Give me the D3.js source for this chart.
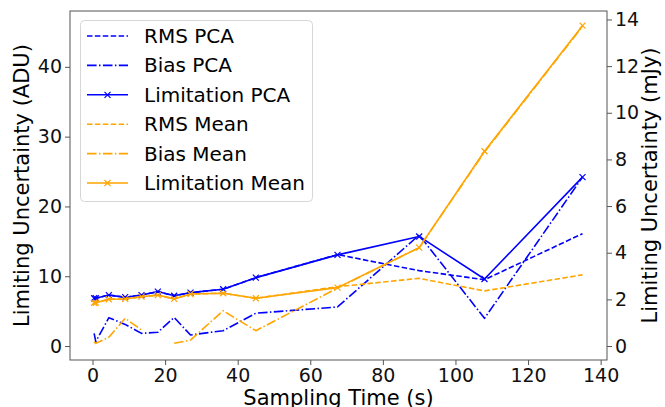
<!DOCTYPE html>
<html lang="en">
<head>
    <meta charset="UTF-8">
    <script src="https://cdn.jsdelivr.net/npm/d3@7"></script>
    <title>Limiting Uncertainty</title>
    <style>
        body { margin: 0; background: white; }
        svg { font-family: "DejaVu Sans", sans-serif; }
        .tick text { fill: #111; }
    </style>
</head>
<body>
    <div id="chart"></div>

    <script>
        // sampling times (s)
        const times = [0.45, 0.9, 4.5, 9, 13.5, 18, 22.5, 27, 36, 45, 67.5, 90, 108, 135];

        // values in ADU
        const rmsPCA   = [6.84, 6.84, 7.3, 7.0, 7.3, 7.8, 7.2, 7.65, 8.13, 9.8, 13.1, 10.8, 9.5, 16.1];
        const biasPCA  = [1.82, 0.62, 4.06, 3.1, 1.82, 1.97, 4.1, 1.58, 2.2, 4.7, 5.6, 15.9, 3.97, 24.2];
        const limPCA   = [6.84, 6.84, 7.3, 7.0, 7.3, 7.8, 7.2, 7.65, 8.13, 9.8, 13.06, 15.7, 9.6, 24.2];
        const rmsMean  = [6.2, 6.2, 6.7, 6.75, 7.07, 7.3, 6.75, 7.46, 7.56, 6.84, 8.5, 9.7, 7.9, 10.2];
        const biasMean = [0.6, 0.39, 1.25, 3.97, 2.3, null, 0.39, 0.86, 5.06, 2.2, 8.3, 14.1, 27.8, 45.8];
        const limMean  = [6.2, 6.2, 6.7, 6.75, 7.07, 7.3, 6.75, 7.46, 7.56, 6.84, 8.37, 14.1, 27.9, 45.9];

        const xTicks = [0, 20, 40, 60, 80, 100, 120, 140];
        const yTicksLeft = [0, 10, 20, 30, 40];
        const yTicksRight = [0, 2, 4, 6, 8, 10, 12, 14];
        const adu_per_mjy = 3.342;

        const series = [
            { name: "RMS PCA", values: rmsPCA, color: "blue", dash: "5.5,2.4", marker: false },
            { name: "Bias PCA", values: biasPCA, color: "blue", dash: "9.6,2.4,1.5,2.4", marker: false },
            { name: "Limitation PCA", values: limPCA, color: "blue", dash: null, marker: true },
            { name: "RMS Mean", values: rmsMean, color: "orange", dash: "5.5,2.4", marker: false },
            { name: "Bias Mean", values: biasMean, color: "orange", dash: "9.6,2.4,1.5,2.4", marker: false },
            { name: "Limitation Mean", values: limMean, color: "orange", dash: null, marker: true }
        ];

        const width = 665, height = 407;
        const margin = { left: 70, right: 58, top: 11, bottom: 47 };

        const svg = d3.select("#chart").append("svg")
            .attr("width", width)
            .attr("height", height);

        const x = d3.scaleLinear().domain([-6.2, 141.75]).range([margin.left, width - margin.right]);
        const y = d3.scaleLinear().domain([-2.0, 48.0]).range([height - margin.bottom, margin.top]);
        const y2 = d3.scaleLinear().domain([-2.0 / adu_per_mjy, 48.0 / adu_per_mjy]).range([height - margin.bottom, margin.top]);

        const tickFont = "19px";

        // axes
        const xAxis = svg.append("g")
            .attr("transform", `translate(0,${height - margin.bottom})`)
            .call(d3.axisBottom(x).tickValues(xTicks).tickSize(5).tickPadding(4));
        const yAxis = svg.append("g")
            .attr("transform", `translate(${margin.left},0)`)
            .call(d3.axisLeft(y).tickValues(yTicksLeft).tickSize(5).tickPadding(3));
        const yAxis2 = svg.append("g")
            .attr("transform", `translate(${width - margin.right},0)`)
            .call(d3.axisRight(y2).tickValues(yTicksRight).tickSize(5).tickPadding(3));

        [xAxis, yAxis, yAxis2].forEach(g => {
            g.select(".domain").remove();
            g.selectAll("line").attr("stroke", "#555");
            g.selectAll("text").style("font-size", tickFont).style("font-family", "DejaVu Sans");
        });

        // frame
        svg.append("rect")
            .attr("x", margin.left)
            .attr("y", margin.top)
            .attr("width", width - margin.left - margin.right)
            .attr("height", height - margin.top - margin.bottom)
            .attr("fill", "none")
            .attr("stroke", "#555")
            .attr("stroke-width", 1);

        // axis labels
        svg.append("text")
            .attr("x", (margin.left + width - margin.right) / 2)
            .attr("y", 405)
            .attr("text-anchor", "middle")
            .style("font-size", "21px")
            .text("Sampling Time (s)");
        svg.append("text")
            .attr("transform", `translate(29,${(margin.top + height - margin.bottom) / 2}) rotate(-90)`)
            .attr("text-anchor", "middle")
            .style("font-size", "21px")
            .text("Limiting Uncertainty (ADU)");
        svg.append("text")
            .attr("transform", `translate(657,${(margin.top + height - margin.bottom) / 2}) rotate(-90)`)
            .attr("text-anchor", "middle")
            .style("font-size", "21px")
            .text("Limiting Uncertainty (mJy)");

        const line = d3.line()
            .defined(d => d.v != null)
            .x(d => x(d.t))
            .y(d => y(d.v));

        const plot = svg.append("g");

        series.forEach(s => {
            const pts = times.map((t, i) => ({ t: t, v: s.values[i] }));
            plot.append("path")
                .datum(pts)
                .attr("d", line)
                .attr("fill", "none")
                .attr("stroke", s.color)
                .attr("stroke-width", 1.6)
                .attr("stroke-dasharray", s.dash)
                .attr("stroke-linejoin", "round");
            if (s.marker) {
                plot.selectAll(null)
                    .data(pts.filter(d => d.v != null))
                    .enter().append("path")
                    .attr("d", "M-3,-3L3,3M-3,3L3,-3")
                    .attr("transform", d => `translate(${x(d.t)},${y(d.v)})`)
                    .attr("stroke", s.color)
                    .attr("stroke-width", 1.2);
            }
        });

        // legend
        const legend = svg.append("g");
        legend.append("rect")
            .attr("x", 80.5)
            .attr("y", 20.5)
            .attr("width", 232)
            .attr("height", 181)
            .attr("rx", 4)
            .attr("fill", "white")
            .attr("fill-opacity", 0.8)
            .attr("stroke", "#d6d6d6");

        series.forEach((s, i) => {
            const cy = 36 + i * 29.4;
            legend.append("line")
                .attr("x1", 87).attr("x2", 128)
                .attr("y1", cy).attr("y2", cy)
                .attr("stroke", s.color)
                .attr("stroke-width", 1.6)
                .attr("stroke-dasharray", s.dash);
            if (s.marker) {
                legend.append("path")
                    .attr("d", "M-3,-3L3,3M-3,3L3,-3")
                    .attr("transform", `translate(107.5,${cy})`)
                    .attr("stroke", s.color)
                    .attr("stroke-width", 1.2);
            }
            legend.append("text")
                .attr("x", 144)
                .attr("y", cy + 7)
                .style("font-size", "20px")
                .text(s.name);
        });
    </script>
</body>
</html>
